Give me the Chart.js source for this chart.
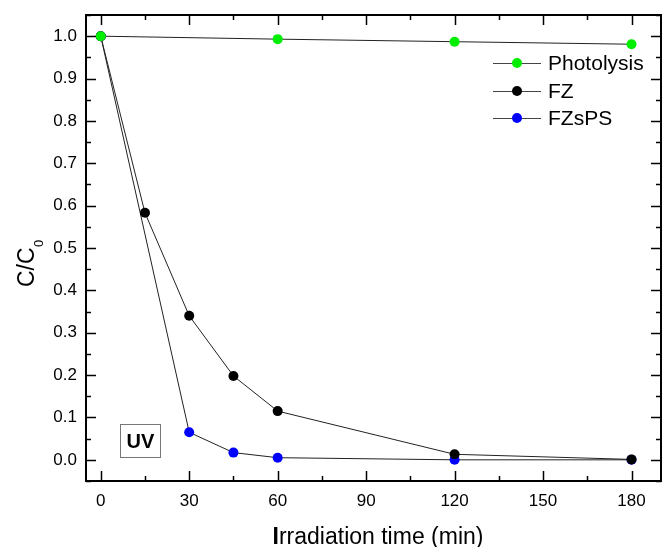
<!DOCTYPE html>
<html>
<head>
<meta charset="utf-8">
<script src="https://cdn.jsdelivr.net/npm/chart.js@4"></script>
<style>
  html, body { margin: 0; padding: 0; background: #fff; }
  #wrap { width: 662px; height: 547px; position: relative; }
</style>
</head>
<body>
<div id="wrap"><canvas id="chart" width="662" height="547"></canvas></div>
<script>
// données
const seriesNames = ['Photolysis', 'FZ', 'FZsPS'];
const seriesColors = ['#00ee00', '#000000', '#0000ff'];

const photolysisTime = [0, 60, 120, 180];
const photolysisValues = [1.0, 0.993, 0.987, 0.981];

const fzTime = [0, 15, 30, 45, 60, 120, 180];
const fzValues = [1.0, 0.583, 0.340, 0.198, 0.115, 0.013, 0.001];

const fzspsTime = [0, 30, 45, 60, 120, 180];
const fzspsValues = [1.0, 0.065, 0.017, 0.005, 0.0, 0.0];

const xTicks = [0, 30, 60, 90, 120, 150, 180];
const xMinorTicks = [15, 45, 75, 105, 135, 165];
const yTicks = [0.0, 0.1, 0.2, 0.3, 0.4, 0.5, 0.6, 0.7, 0.8, 0.9, 1.0];
const yMinorTicks = [-0.05, 0.05, 0.15, 0.25, 0.35, 0.45, 0.55, 0.65, 0.75, 0.85, 0.95, 1.05];

const FONT = 'Arial, "Liberation Sans", sans-serif';

function toPoints(xs, ys) {
    return xs.map((x, i) => ({ x: x, y: ys[i] }));
}

const allSeries = [
    toPoints(photolysisTime, photolysisValues),
    toPoints(fzTime, fzValues),
    toPoints(fzspsTime, fzspsValues)
];

const datasets = allSeries.map((pts, i) => ({
    label: seriesNames[i],
    data: pts,
    showLine: true,
    borderColor: '#222',
    borderWidth: 1,
    pointRadius: 5,
    pointHoverRadius: 5,
    pointBackgroundColor: seriesColors[i],
    pointBorderColor: seriesColors[i],
    pointBorderWidth: 0
}));

// cadre, graduations internes, légende, titres
const framePlugin = {
    id: 'frame',
    afterDraw(chart) {
        const ctx = chart.ctx;
        const a = chart.chartArea;
        const xs = chart.scales.x;
        const ys = chart.scales.y;
        ctx.save();
        ctx.strokeStyle = '#000';
        ctx.lineWidth = 2;
        ctx.strokeRect(a.left, a.top, a.right - a.left, a.bottom - a.top);

        ctx.lineWidth = 1.5;
        const tick = (x1, y1, x2, y2) => {
            ctx.beginPath(); ctx.moveTo(x1, y1); ctx.lineTo(x2, y2); ctx.stroke();
        };
        xTicks.forEach(v => {
            const px = Math.round(xs.getPixelForValue(v)) + 0.5;
            tick(px, a.bottom, px, a.bottom - 10);
            tick(px, a.top, px, a.top + 10);
        });
        xMinorTicks.forEach(v => {
            const px = Math.round(xs.getPixelForValue(v)) + 0.5;
            tick(px, a.bottom, px, a.bottom - 5);
            tick(px, a.top, px, a.top + 5);
        });
        yTicks.forEach(v => {
            const py = Math.round(ys.getPixelForValue(v)) + 0.5;
            tick(a.left, py, a.left + 10, py);
            tick(a.right, py, a.right - 10, py);
        });
        yMinorTicks.forEach(v => {
            const py = Math.round(ys.getPixelForValue(v)) + 0.5;
            tick(a.left, py, a.left + 5, py);
            tick(a.right, py, a.right - 5, py);
        });

        // légende
        const legendY = [63, 91, 118];
        ctx.font = '21px ' + FONT;
        ctx.textBaseline = 'middle';
        ctx.textAlign = 'left';
        seriesNames.forEach((name, i) => {
            const y = legendY[i];
            ctx.strokeStyle = '#444';
            ctx.lineWidth = 1;
            tick(493, y + 0.5, 541, y + 0.5);
            ctx.fillStyle = seriesColors[i];
            ctx.beginPath(); ctx.arc(517, y, 5, 0, Math.PI * 2); ctx.fill();
            ctx.fillStyle = '#000';
            ctx.fillText(name, 548, y + 1);
        });

        // boîte UV
        ctx.strokeStyle = '#777';
        ctx.lineWidth = 1;
        ctx.strokeRect(120.5, 424.5, 40, 33);
        ctx.fillStyle = '#000';
        ctx.font = 'bold 20px ' + FONT;
        ctx.textAlign = 'center';
        ctx.fillText('UV', 140.5, 442);

        // titre axe x (le I est en gras sur l'original)
        ctx.textBaseline = 'alphabetic';
        ctx.textAlign = 'left';
        ctx.font = 'bold 23px ' + FONT;
        const wI = ctx.measureText('I').width;
        ctx.font = '23px ' + FONT;
        const rest = 'rradiation time (min)';
        const wR = ctx.measureText(rest).width;
        const xStart = 378 - (wI + wR) / 2;
        ctx.font = 'bold 23px ' + FONT;
        ctx.fillText('I', xStart, 544);
        ctx.font = '23px ' + FONT;
        ctx.fillText(rest, xStart + wI, 544);

        // titre axe y : C/C0
        ctx.translate(33.5, 0);
        ctx.rotate(-Math.PI / 2);
        ctx.font = '23px ' + FONT;
        ctx.fillText('C/C', -287, 0);
        const wC = ctx.measureText('C/C').width;
        ctx.font = '13px ' + FONT;
        ctx.fillText('0', -287 + wC + 0.5, 9);
        ctx.restore();
    }
};

new Chart(document.getElementById('chart'), {
    type: 'scatter',
    data: { datasets },
    options: {
        responsive: false,
        animation: false,
        layout: { autoPadding: false, padding: { top: 15, right: 1, left: 0, bottom: 0 } },
        plugins: {
            legend: { display: false },
            tooltip: { enabled: false }
        },
        scales: {
            x: {
                type: 'linear',
                min: -5,
                max: 190,
                afterBuildTicks: s => { s.ticks = xTicks.map(v => ({ value: v })); },
                afterFit: s => {
                    s.height = 66;
                    s.paddingLeft = 0;
                    s.paddingRight = 0;
                },
                grid: { display: false, drawTicks: false },
                border: { display: false },
                ticks: {
                    color: '#000',
                    font: { size: 17, family: FONT },
                    padding: 10,
                    maxRotation: 0,
                    callback: v => String(v)
                }
            },
            y: {
                type: 'linear',
                min: -0.05,
                max: 1.05,
                afterBuildTicks: s => { s.ticks = yTicks.map(v => ({ value: v })); },
                afterFit: s => {
                    s.width = 86;
                    s.paddingTop = 0;
                    s.paddingBottom = 0;
                },
                grid: { display: false, drawTicks: false },
                border: { display: false },
                ticks: {
                    color: '#000',
                    font: { size: 17, family: FONT },
                    padding: 9,
                    callback: v => v.toFixed(1)
                }
            }
        }
    },
    plugins: [framePlugin]
});
</script>
</body>
</html>
